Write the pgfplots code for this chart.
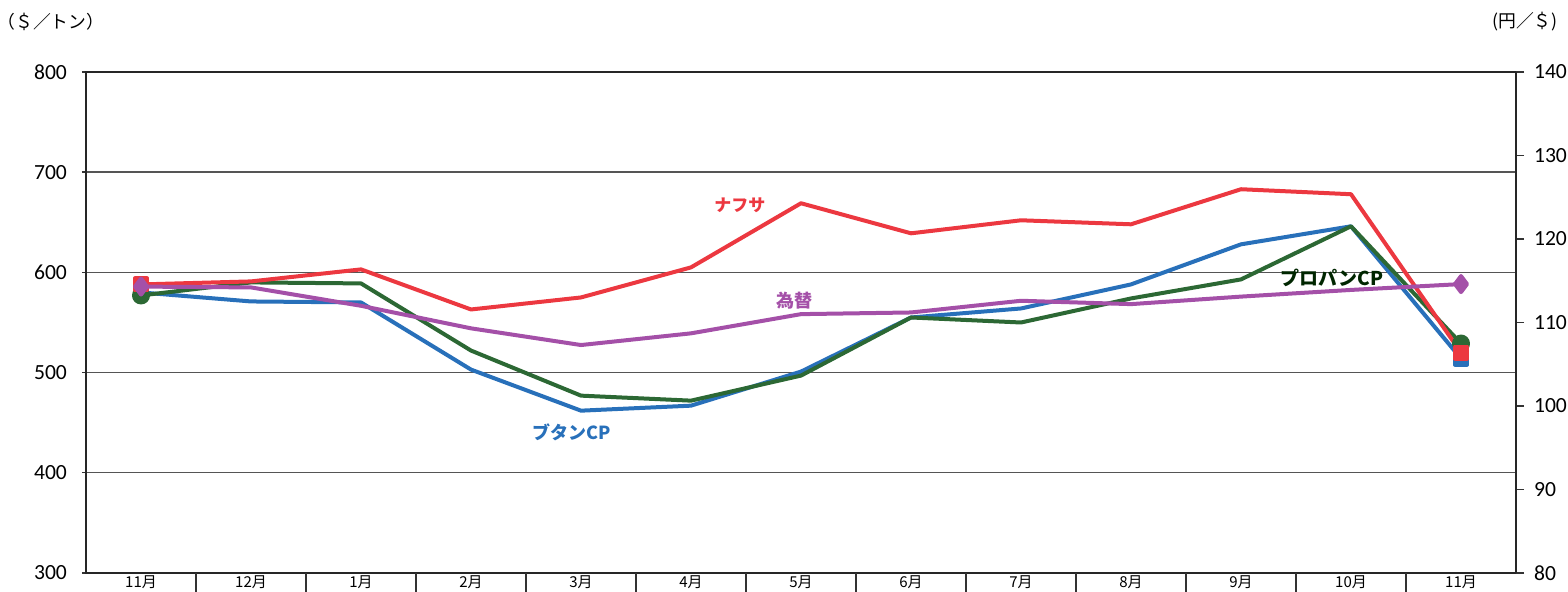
\documentclass[border=0pt]{standalone}
\usepackage{pgfplots}
\usepackage{pgfplotstable}
\pgfplotsset{compat=1.18}
\usepackage{fontspec}
\setmainfont{Carlito}
\newfontfamily\jp{Noto Sans CJK JP}
\definecolor{naph}{RGB}{236,56,64}
\definecolor{but}{RGB}{40,112,186}
\definecolor{prop}{RGB}{44,104,52}
\definecolor{fxc}{RGB}{164,80,168}
\definecolor{gridc}{RGB}{85,85,85}

\pgfplotstableread{
i naph butane propane
0 588 580 577
1 591 571 590
2 603 570 589
3 563 503 522
4 575 462 477
5 605 467 472
6 669 501 497
7 639 555 555
8 652 564 550
9 648 588 574
10 683 628 593
11 678 646 646
12 520 514 529
}\prices

\pgfplotstableread{
i fx
0 114.3
1 114.2
2 112.0
3 109.3
4 107.3
5 108.7
6 111.0
7 111.2
8 112.6
9 112.2
10 113.1
11 113.9
12 114.6
}\fxdata

\begin{document}
\begin{tikzpicture}
\begin{axis}[
  at={(43pt,9.5pt)}, anchor=south west,
  width=715pt, height=250.5pt, scale only axis,
  xmin=-0.5, xmax=12.5, ymin=300, ymax=800,
  tick pos=left, tick align=outside,
  major tick length=2pt,
  axis line style={black!85, line width=0.7pt},
  xtick={0,...,12},
  xticklabels={11月,12月,1月,2月,3月,4月,5月,6月,7月,8月,9月,10月,11月},
  xtick style={draw=none},
  xticklabel style={font=\jp\fontsize{7.5}{8}\selectfont, inner sep=0pt, yshift=1pt},
  extra x ticks={0.5,1.5,...,11.5},
  extra x tick labels={},
  extra x tick style={major tick length=24pt, xtick style={draw=black!80, line width=0.7pt}},
  ytick={300,400,...,800},
  ytick style={black!80, line width=0.7pt},
  yticklabel style={font=\fontsize{10.8}{12}\selectfont, xshift=-4pt},
  /pgf/number format/assume math mode=true,
  ymajorgrids,
  grid style={gridc, line width=0.7pt},
  clip=false,
]
\addplot[but, line width=2pt, line join=round, mark=square*, mark size=3pt, mark indices={1,13}] table[x=i,y=butane]{\prices};
\addplot[prop, line width=2pt, line join=round, mark=*, mark size=3.5pt, mark indices={1,13}] table[x=i,y=propane]{\prices};
\addplot[naph, line width=2pt, line join=round, mark=square*, mark size=3pt, mark indices={1,13}] table[x=i,y=naph]{\prices};
\node[text=naph, font=\jp\bfseries\fontsize{8.5}{10}\selectfont] at (axis cs:5.445,667.3) {ナフサ};
\node[text=fxc, font=\jp\bfseries\fontsize{9}{10}\selectfont] at (axis cs:5.945,571.5) {為替};
\node[text=but, font=\jp\bfseries\fontsize{9}{10}\selectfont] at (axis cs:3.918,440.7) {ブタンCP};
\node[text=black!85!green, font=\jp\bfseries\fontsize{9.5}{10}\selectfont] at (axis cs:10.83,594.4) {プロパンCP};
\end{axis}
\begin{axis}[
  at={(43pt,9.5pt)}, anchor=south west,
  width=715pt, height=250.5pt, scale only axis,
  xmin=-0.5, xmax=12.5, ymin=80, ymax=140,
  axis x line=none, axis y line*=right,
  axis line style={black!85, line width=0.7pt},
  ytick={80,90,...,140},
  tick align=outside, major tick length=4pt,
  ytick style={black!80, line width=0.7pt},
  yticklabel style={font=\fontsize{10.8}{12}\selectfont, xshift=1.5pt},
  /pgf/number format/assume math mode=true,
  clip=false,
]
\addplot[fxc, line width=2pt, line join=round, mark=diamond*, mark size=4pt, mark indices={1,13}] table[x=i,y=fx]{\fxdata};
\end{axis}
\node[font=\jp\fontsize{8.9}{10}\selectfont] at (25.5pt,285pt) {（＄／トン）};
\node[font=\jp\fontsize{8.9}{10}\selectfont] at (762.5pt,285pt) {(円／＄)};
\pgfresetboundingbox
\path[use as bounding box] (0pt,0pt) rectangle (784pt,296pt);
\end{tikzpicture}
\end{document}
